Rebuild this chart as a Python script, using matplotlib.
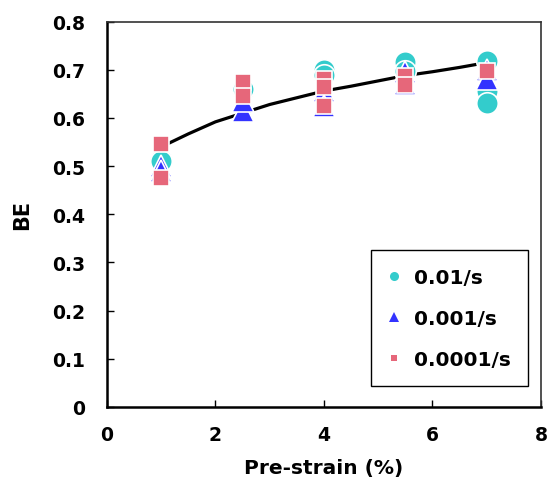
import matplotlib.pyplot as plt

plt.rcParams['font.family'] = 'DejaVu Sans'
plt.rcParams['font.weight'] = 'bold'

# BE vs pre-strain
x_01 = [1, 1, 2.5, 2.5, 4, 4, 5.5, 5.5, 7, 7, 7]
be_01 = [0.515, 0.51, 0.655, 0.66, 0.70, 0.69, 0.716, 0.698, 0.719, 0.655, 0.631]

x_001 = [1, 1, 2.5, 2.5, 4, 4, 5.5, 5.5, 7, 7]
be_001 = [0.50, 0.49, 0.615, 0.635, 0.655, 0.625, 0.695, 0.67, 0.70, 0.68]

x_0001 = [1, 1, 2.5, 2.5, 4, 4, 4, 5.5, 5.5, 7]
be_0001 = [0.545, 0.475, 0.675, 0.645, 0.68, 0.665, 0.624, 0.687, 0.669, 0.697]

# trend line
fit_x = [1, 1.5, 2, 2.5, 3, 3.5, 4, 4.5, 5, 5.5, 6, 6.5, 7]
fit_y = [0.54, 0.567, 0.592, 0.61, 0.628, 0.642, 0.656, 0.666, 0.677, 0.688, 0.696, 0.705, 0.715]

fig = plt.figure(figsize=(5.5, 4.85), dpi=100)
ax = fig.add_axes([0.1945, 0.1588, 0.789, 0.7945])

ax.plot(fit_x, fit_y, color='black', lw=2.3, zorder=1)
ax.plot(x_01, be_01, 'o', color='#33CCCC', ms=15.5, mec='white', mew=1.2,
        ls='none', label='0.01/s', zorder=2)
ax.plot(x_001, be_001, '^', color='#3333FF', ms=16, mec='white', mew=1.2,
        ls='none', label='0.001/s', zorder=3)
ax.plot(x_0001, be_0001, 's', color='#E6677A', ms=11, mec='white', mew=1.2,
        ls='none', label='0.0001/s', zorder=4)

ax.set_xlim(0, 8)
ax.set_ylim(0, 0.8)
ax.set_xticks([0, 2, 4, 6, 8])
ax.set_yticks([0, 0.1, 0.2, 0.3, 0.4, 0.5, 0.6, 0.7, 0.8])
ax.set_yticklabels(['0', '0.1', '0.2', '0.3', '0.4', '0.5', '0.6', '0.7', '0.8'])
ax.tick_params(direction='in', length=5, width=1, labelsize=13.5)
ax.tick_params(axis='y', pad=16)
ax.tick_params(axis='x', pad=13)
for s in ['left', 'bottom']:
    ax.spines[s].set_linewidth(1.8)
for s in ['top', 'right']:
    ax.spines[s].set_linewidth(1.2)
    ax.spines[s].set_color('#333333')

ax.set_xlabel('Pre-strain (%)', fontsize=14.5, fontweight='bold', labelpad=10)
ax.set_ylabel('BE', fontsize=15, fontweight='bold', labelpad=14)

leg = ax.legend(loc='lower right', bbox_to_anchor=(0.970, 0.0545), fontsize=14.5,
                markerscale=0.42, labelspacing=1.1, handlelength=0.6,
                handletextpad=0.7, borderpad=0.85, borderaxespad=0,
                fancybox=False, edgecolor='black', framealpha=1)
leg.get_frame().set_linewidth(1.0)
for h in leg.legend_handles:
    h.set_markeredgewidth(0)

fig.savefig('out.png')
